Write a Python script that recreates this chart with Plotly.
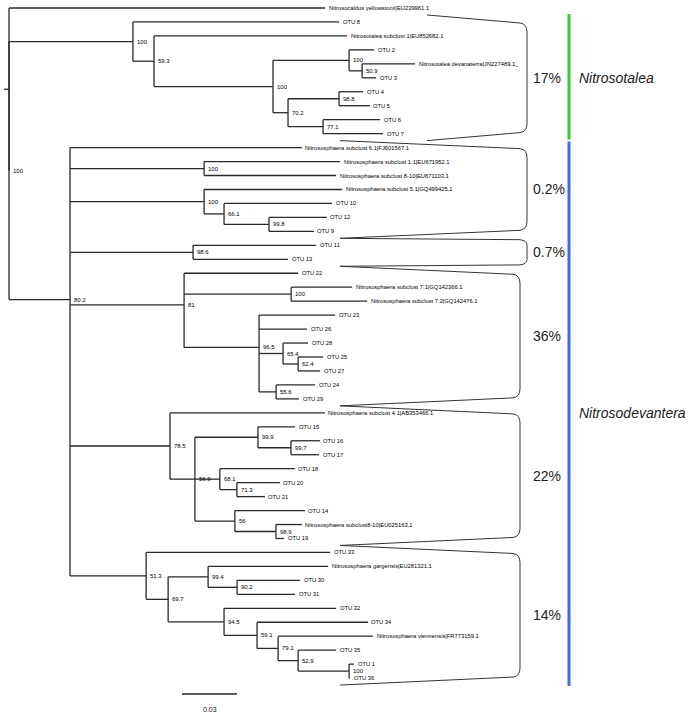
import plotly.graph_objects as go

# ---------------- DATA ----------------
# Tree in preorder: parent index, branch length (substitutions/site), leaf name, bootstrap
node_parent = [-1, 0, 0, 2, 3, 3, 5, 5, 7, 8, 8, 10, 10, 7, 13, 14, 14, 13, 17, 17,
               2, 20, 20, 22, 22, 20, 25, 25, 27, 27, 29, 29, 20, 32, 32, 20, 35, 35, 37, 37,
               35, 40, 40, 40, 43, 43, 45, 45, 40, 48, 48, 20, 51, 51, 53, 54, 54, 56, 56, 53,
               59, 59, 61, 61, 53, 64, 64, 66, 66, 20, 69, 69, 71, 72, 72, 74, 74, 71, 77, 77,
               79, 79, 81, 81, 83, 83, 85, 85]

branch_length = [0.0027, 0.1724, 0.0, 0.0676, 0.1124, 0.0115, 0.1053, 0.0649, 0.0415, 0.0136,
                 0.0071, 0.0289, 0.0076, 0.0082, 0.0278, 0.0131, 0.0169, 0.0191, 0.0311, 0.0327,
                 0.0333, 0.1265, 0.0731, 0.0742, 0.0720, 0.0731, 0.0753, 0.0109, 0.0589, 0.0245,
                 0.0316, 0.0245, 0.0671, 0.0671, 0.0518, 0.0622, 0.0622, 0.0584, 0.0333, 0.0415,
                 0.0409, 0.0415, 0.0262, 0.0131, 0.0136, 0.0082, 0.0136, 0.0120, 0.0093, 0.0213,
                 0.0125, 0.0545, 0.0845, 0.0136, 0.0344, 0.0202, 0.0180, 0.0158, 0.0153, 0.0136,
                 0.0409, 0.0093, 0.0235, 0.0153, 0.0218, 0.0382, 0.0224, 0.0142, 0.0044, 0.0415,
                 0.1004, 0.0120, 0.0218, 0.0655, 0.0158, 0.0344, 0.0316, 0.0305, 0.0611, 0.0180,
                 0.0605, 0.0115, 0.0518, 0.0109, 0.0207, 0.0278, 0.0027, 0.0005]

node_name = [None, "Nitrosocaldus yellowstonii|EU239961.1", None, None, "OTU 8", None,
             "Nitrosotalea subclust 1|EU852682.1", None, None, "OTU 2", None,
             "Nitrosotalea devanaterra|JN227489.1_", "OTU 3", None, None, "OTU 4", "OTU 5", None,
             "OTU 6", "OTU 7",
             None, "Nitrososphaera subclust 6.1|FJ601567.1", None,
             "Nitrososphaera subclust 1.1|EU671952.1", "Nitrososphaera subclust 8-10|EU671103.1",
             None, "Nitrososphaera subclust 5.1|GQ499425.1", None, "OTU 10", None, "OTU 12", "OTU 9",
             None, "OTU 11", "OTU 13",
             None, "OTU 22", None, "Nitrososphaera subclust 7.1|GQ142366.1",
             "Nitrososphaera subclust 7.2|GQ142476.1",
             None, "OTU 23", "OTU 26", None, "OTU 28", None, "OTU 25", "OTU 27", None, "OTU 24", "OTU 29",
             None, "Nitrososphaera subclust 4.1|AB353466.1", None, None, "OTU 15", None, "OTU 16", "OTU 17",
             None, "OTU 18", None, "OTU 20", "OTU 21", None, "OTU 14", None,
             "Nitrososphaera subclust8-10|EU025163.1", "OTU 19",
             None, "OTU 33", None, None, "Nitrososphaera gargensis|EU281321.1", None, "OTU 30", "OTU 31",
             None, "OTU 32", None, "OTU 34", None, "Nitrososphaera viennensis|FR773159.1", None, "OTU 35",
             None, "OTU 1", "OTU 36"]

bootstrap = [None, None, "100", "100", None, "59.3", None, "100", "100", None,
             "50.9", None, None, "70.2", "98.8", None, None, "77.1", None, None,
             "80.2", None, "100", None, None, "100", None, "66.1", None, "99.8",
             None, None, "98.6", None, None, "81", None, "100", None, None,
             "96.5", None, None, "65.4", None, "62.4", None, None, "55.6", None,
             None, "78.5", None, "56.9", "99.9", None, "99.7", None, None, "68.1",
             None, "71.3", None, None, "56", None, "98.9", None, None, "51.3",
             None, "69.7", "99.4", None, "90.2", None, None, "94.5", None, "59.1",
             None, "79.1", None, "52.9", None, "100", None, None]

group_labels = ["17%", "0.2%", "0.7%", "36%", "22%", "14%"]
group_first = ["OTU 8", "Nitrososphaera subclust 6.1|FJ601567.1", "OTU 11", "OTU 22",
               "Nitrososphaera subclust 4.1|AB353466.1", "OTU 33"]
group_last = ["OTU 7", "OTU 9", "OTU 13", "OTU 29", "OTU 19", "OTU 36"]

clade_names = ["Nitrosotalea", "Nitrosodevantera"]
clade_first = ["OTU 8", "Nitrososphaera subclust 6.1|FJ601567.1"]
clade_last = ["OTU 7", "OTU 36"]
clade_colors = ["#35c935", "#3d6ee6"]

scale_bar_length = 0.03

# ---------------- LAYOUT HELPERS ----------------
W, H = 689, 716
PX_PER_UNIT = 55 / 0.03
ROOT_PX = 9
LEAF0_PX = 8
STEP_PX = 13.96


def dx(px):
    return (px - ROOT_PX) / PX_PER_UNIT


def dy(px):
    return (px - LEAF0_PX) / STEP_PX


def ypx(v):
    return LEAF0_PX + v * STEP_PX


n = len(node_parent)
children = [[] for _ in range(n)]
for i, p in enumerate(node_parent):
    if p >= 0:
        children[p].append(i)

xs = [0.0] * n
for i in range(n):
    p = node_parent[i]
    xs[i] = 0.0 if p < 0 else xs[p] + branch_length[i]

ys = [0.0] * n
leaf_idx = {}
k = 0
for i in range(n):
    if not children[i]:
        ys[i] = k
        leaf_idx[node_name[i]] = k
        k += 1
for i in reversed(range(n)):
    if children[i]:
        ys[i] = sum(ys[c] for c in children[i]) / len(children[i])

# ---------------- TREE LINES ----------------
lx, ly = [], []
for i in range(n):
    p = node_parent[i]
    if p < 0:
        lx += [xs[i] - branch_length[i], xs[i], None]
        ly += [ys[i], ys[i], None]
    else:
        lx += [xs[p], xs[i], None]
        ly += [ys[i], ys[i], None]
    if children[i]:
        cy = [ys[c] for c in children[i]]
        lx += [xs[i], xs[i], None]
        ly += [min(cy), max(cy), None]

fig = go.Figure()
fig.add_trace(go.Scatter(x=lx, y=ly, mode="lines",
                         line=dict(color="#2a2a2a", width=1.3),
                         hoverinfo="skip", showlegend=False))

LEAF_FONT = dict(family="Liberation Sans, Arial, Helvetica", size=5.8, color="#000")
BOOT_FONT = dict(family="Liberation Sans, Arial, Helvetica", size=6, color="#000")

annotations = []
for i in range(n):
    if not children[i]:
        annotations.append(dict(x=xs[i], y=ys[i], text=node_name[i], showarrow=False,
                                xanchor="left", yanchor="middle", xshift=1.5, font=LEAF_FONT))
    if bootstrap[i] is not None:
        annotations.append(dict(x=xs[i], y=ys[i], text=bootstrap[i], showarrow=False,
                                xanchor="left", yanchor="middle", xshift=2, font=BOOT_FONT))

# scale bar
sb_x0 = dx(182)
sb_y = dy(694)
fig.add_trace(go.Scatter(x=[sb_x0, sb_x0 + scale_bar_length], y=[sb_y, sb_y], mode="lines",
                         line=dict(color="#2a2a2a", width=1.3), hoverinfo="skip", showlegend=False))
annotations.append(dict(x=sb_x0 + scale_bar_length / 2, y=dy(709), text=f"{scale_bar_length:.2f}",
                        showarrow=False, xanchor="center", yanchor="middle",
                        font=dict(family="Liberation Sans, Arial, Helvetica", size=7, color="#111")))

# ---------------- BRACKETS ----------------
bracket_left_px = [427, 340, 340, 340, 340, 340]
bracket_right_px = [527, 527, 527, 520, 520, 520]
shapes = []
for g, lab in enumerate(group_labels):
    f = leaf_idx[group_first[g]]
    l = leaf_idx[group_last[g]]
    yt = ypx(f - 0.5)
    yb = ypx(l + 0.5)
    h = yb - yt
    d = min(10, h * 0.12)
    r = min(7, h * 0.12)
    xl, xr = bracket_left_px[g], bracket_right_px[g]
    pts = [
        ("M", [(xl, yt)]),
        ("L", [(xr - 7, yt + d - 2)]),
        ("Q", [(xr, yt + d - 1), (xr, yt + d + r)]),
        ("L", [(xr, yb - d - r)]),
        ("Q", [(xr, yb - d + 1), (xr - 7, yb - d + 2)]),
        ("L", [(xl, yb)]),
    ]
    path = " ".join(cmd + " " + " ".join(f"{dx(a)},{dy(b)}" for a, b in pp) for cmd, pp in pts)
    shapes.append(dict(type="path", path=path, xref="x", yref="y",
                       line=dict(color="#333", width=1)))
    annotations.append(dict(x=dx(531), y=dy((yt + yb) / 2), text=lab, showarrow=False,
                            xanchor="left", yanchor="middle",
                            font=dict(family="Liberation Sans, Arial, Helvetica", size=14, color="#222")))

# ---------------- CLADE BARS ----------------
for c, name in enumerate(clade_names):
    f = leaf_idx[clade_first[c]]
    l = leaf_idx[clade_last[c]]
    yt = ypx(f - 0.5) + (1 if c > 0 else -1)
    yb = ypx(l + 0.5) + (1 if c > 0 else -1)
    shapes.append(dict(type="line", xref="x", yref="y", x0=dx(569), x1=dx(569),
                       y0=dy(yt), y1=dy(yb), line=dict(color=clade_colors[c], width=3)))
    annotations.append(dict(x=dx(577), y=(f + l) / 2, text=f"<i>{name}</i>", showarrow=False,
                            xanchor="left", yanchor="middle",
                            font=dict(family="Liberation Sans, Arial, Helvetica", size=14, color="#222")))

fig.update_layout(
    width=W, height=H,
    margin=dict(l=0, r=0, t=0, b=0),
    paper_bgcolor="white", plot_bgcolor="white",
    xaxis=dict(range=[dx(0), dx(W)], visible=False, fixedrange=True),
    yaxis=dict(range=[dy(H), dy(0)], visible=False, fixedrange=True),
    shapes=shapes,
    annotations=annotations,
    showlegend=False,
)

fig.write_html("out.html", config={"displayModeBar": False},
               post_script="document.body.style.margin='0';")
